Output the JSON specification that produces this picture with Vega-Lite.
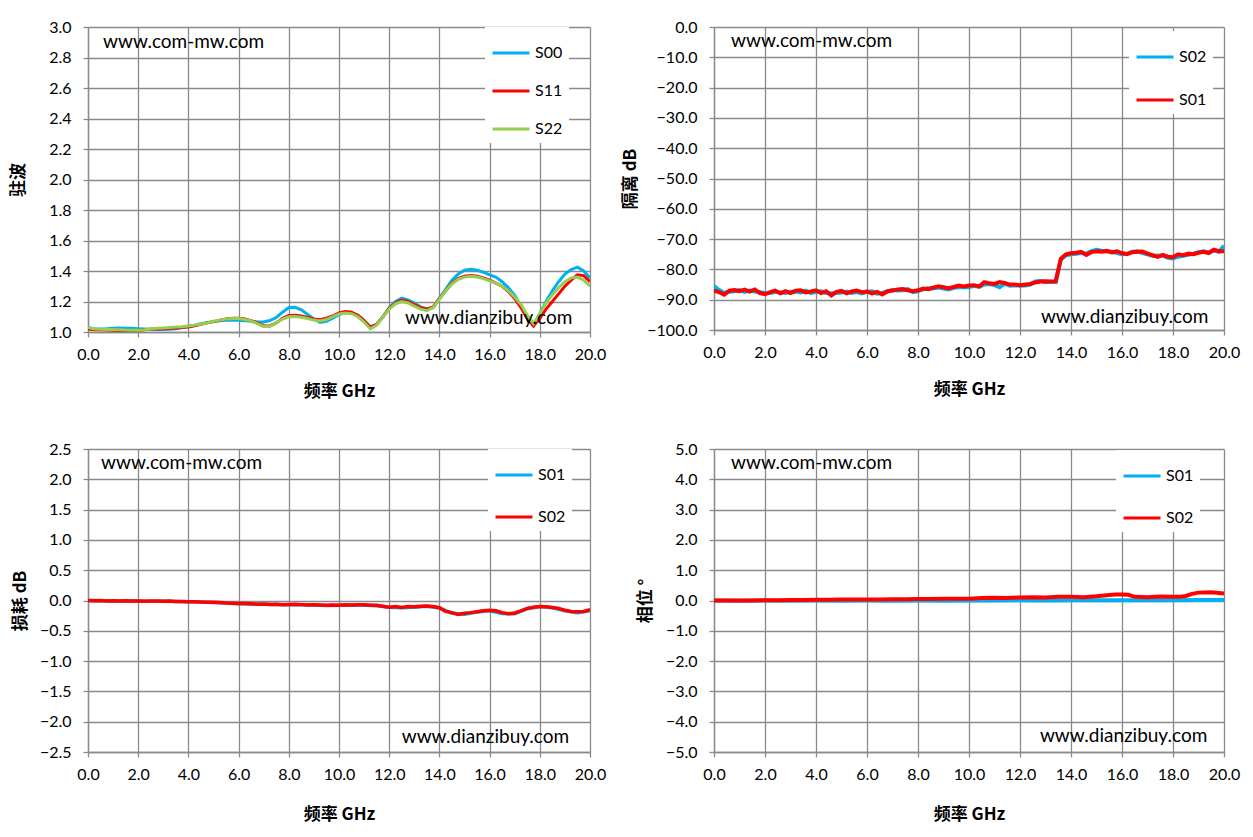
{
  "$schema": "https://vega.github.io/schema/vega-lite/v6.json",
  "background": "white",
  "padding": {"left": 9, "top": 19, "right": 10, "bottom": 10},
  "columns": 2,
  "bounds": "flush",
  "spacing": {"row": 117, "column": 124},
  "resolve": {
    "scale": {"x": "independent", "y": "independent", "color": "independent"},
    "legend": {"color": "independent"}
  },
  "datasets": {
    "vswr": [
      {"s":"S00","f":0,"v":1.03},{"s":"S00","f":0.25,"v":1.02},{"s":"S00","f":0.5,"v":1.02},{"s":"S00","f":0.75,"v":1.022},
      {"s":"S00","f":1,"v":1.025},{"s":"S00","f":1.25,"v":1.026},{"s":"S00","f":1.5,"v":1.025},{"s":"S00","f":1.75,"v":1.024},
      {"s":"S00","f":2,"v":1.022},{"s":"S00","f":2.25,"v":1.02},{"s":"S00","f":2.5,"v":1.018},{"s":"S00","f":2.75,"v":1.016},
      {"s":"S00","f":3,"v":1.016},{"s":"S00","f":3.25,"v":1.018},{"s":"S00","f":3.5,"v":1.022},{"s":"S00","f":3.75,"v":1.03},
      {"s":"S00","f":4,"v":1.04},{"s":"S00","f":4.25,"v":1.045},{"s":"S00","f":4.5,"v":1.055},{"s":"S00","f":4.75,"v":1.062},
      {"s":"S00","f":5,"v":1.068},{"s":"S00","f":5.25,"v":1.073},{"s":"S00","f":5.5,"v":1.077},{"s":"S00","f":5.75,"v":1.078},
      {"s":"S00","f":6,"v":1.077},{"s":"S00","f":6.25,"v":1.074},{"s":"S00","f":6.5,"v":1.07},{"s":"S00","f":6.75,"v":1.066},
      {"s":"S00","f":7,"v":1.066},{"s":"S00","f":7.25,"v":1.075},{"s":"S00","f":7.5,"v":1.095},{"s":"S00","f":7.75,"v":1.13},
      {"s":"S00","f":8,"v":1.16},{"s":"S00","f":8.25,"v":1.162},{"s":"S00","f":8.5,"v":1.145},{"s":"S00","f":8.75,"v":1.115},
      {"s":"S00","f":9,"v":1.085},{"s":"S00","f":9.25,"v":1.063},{"s":"S00","f":9.5,"v":1.07},{"s":"S00","f":9.75,"v":1.09},
      {"s":"S00","f":10,"v":1.115},{"s":"S00","f":10.25,"v":1.128},{"s":"S00","f":10.5,"v":1.125},{"s":"S00","f":10.75,"v":1.11},
      {"s":"S00","f":11,"v":1.075},{"s":"S00","f":11.25,"v":1.035},{"s":"S00","f":11.5,"v":1.05},{"s":"S00","f":11.75,"v":1.1},
      {"s":"S00","f":12,"v":1.16},{"s":"S00","f":12.25,"v":1.2},{"s":"S00","f":12.5,"v":1.222},{"s":"S00","f":12.75,"v":1.21},
      {"s":"S00","f":13,"v":1.19},{"s":"S00","f":13.25,"v":1.165},{"s":"S00","f":13.5,"v":1.152},{"s":"S00","f":13.75,"v":1.16},
      {"s":"S00","f":14,"v":1.22},{"s":"S00","f":14.25,"v":1.28},{"s":"S00","f":14.5,"v":1.34},{"s":"S00","f":14.75,"v":1.38},
      {"s":"S00","f":15,"v":1.405},{"s":"S00","f":15.25,"v":1.412},{"s":"S00","f":15.5,"v":1.405},{"s":"S00","f":15.75,"v":1.392},
      {"s":"S00","f":16,"v":1.375},{"s":"S00","f":16.25,"v":1.36},{"s":"S00","f":16.5,"v":1.33},{"s":"S00","f":16.75,"v":1.29},
      {"s":"S00","f":17,"v":1.24},{"s":"S00","f":17.25,"v":1.17},{"s":"S00","f":17.5,"v":1.09},{"s":"S00","f":17.75,"v":1.04},
      {"s":"S00","f":18,"v":1.12},{"s":"S00","f":18.25,"v":1.2},{"s":"S00","f":18.5,"v":1.27},{"s":"S00","f":18.75,"v":1.33},
      {"s":"S00","f":19,"v":1.38},{"s":"S00","f":19.25,"v":1.41},{"s":"S00","f":19.5,"v":1.425},{"s":"S00","f":19.75,"v":1.4},
      {"s":"S00","f":20,"v":1.355},

      {"s":"S11","f":0,"v":1.02},{"s":"S11","f":0.25,"v":1.015},{"s":"S11","f":0.5,"v":1.015},{"s":"S11","f":0.75,"v":1.013},
      {"s":"S11","f":1,"v":1.012},{"s":"S11","f":1.25,"v":1.01},{"s":"S11","f":1.5,"v":1.008},{"s":"S11","f":1.75,"v":1.008},
      {"s":"S11","f":2,"v":1.01},{"s":"S11","f":2.25,"v":1.015},{"s":"S11","f":2.5,"v":1.018},{"s":"S11","f":2.75,"v":1.02},
      {"s":"S11","f":3,"v":1.022},{"s":"S11","f":3.25,"v":1.025},{"s":"S11","f":3.5,"v":1.027},{"s":"S11","f":3.75,"v":1.03},
      {"s":"S11","f":4,"v":1.032},{"s":"S11","f":4.25,"v":1.04},{"s":"S11","f":4.5,"v":1.05},{"s":"S11","f":4.75,"v":1.06},
      {"s":"S11","f":5,"v":1.068},{"s":"S11","f":5.25,"v":1.078},{"s":"S11","f":5.5,"v":1.085},{"s":"S11","f":5.75,"v":1.09},
      {"s":"S11","f":6,"v":1.09},{"s":"S11","f":6.25,"v":1.085},{"s":"S11","f":6.5,"v":1.075},{"s":"S11","f":6.75,"v":1.06},
      {"s":"S11","f":7,"v":1.04},{"s":"S11","f":7.25,"v":1.04},{"s":"S11","f":7.5,"v":1.06},{"s":"S11","f":7.75,"v":1.09},
      {"s":"S11","f":8,"v":1.108},{"s":"S11","f":8.25,"v":1.11},{"s":"S11","f":8.5,"v":1.105},{"s":"S11","f":8.75,"v":1.095},
      {"s":"S11","f":9,"v":1.085},{"s":"S11","f":9.25,"v":1.08},{"s":"S11","f":9.5,"v":1.09},{"s":"S11","f":9.75,"v":1.105},
      {"s":"S11","f":10,"v":1.125},{"s":"S11","f":10.25,"v":1.135},{"s":"S11","f":10.5,"v":1.13},{"s":"S11","f":10.75,"v":1.11},
      {"s":"S11","f":11,"v":1.075},{"s":"S11","f":11.25,"v":1.03},{"s":"S11","f":11.5,"v":1.05},{"s":"S11","f":11.75,"v":1.1},
      {"s":"S11","f":12,"v":1.155},{"s":"S11","f":12.25,"v":1.19},{"s":"S11","f":12.5,"v":1.21},{"s":"S11","f":12.75,"v":1.2},
      {"s":"S11","f":13,"v":1.18},{"s":"S11","f":13.25,"v":1.16},{"s":"S11","f":13.5,"v":1.15},{"s":"S11","f":13.75,"v":1.165},
      {"s":"S11","f":14,"v":1.22},{"s":"S11","f":14.25,"v":1.27},{"s":"S11","f":14.5,"v":1.32},{"s":"S11","f":14.75,"v":1.35},
      {"s":"S11","f":15,"v":1.365},{"s":"S11","f":15.25,"v":1.37},{"s":"S11","f":15.5,"v":1.365},{"s":"S11","f":15.75,"v":1.355},
      {"s":"S11","f":16,"v":1.34},{"s":"S11","f":16.25,"v":1.32},{"s":"S11","f":16.5,"v":1.3},{"s":"S11","f":16.75,"v":1.265},
      {"s":"S11","f":17,"v":1.22},{"s":"S11","f":17.25,"v":1.16},{"s":"S11","f":17.5,"v":1.09},{"s":"S11","f":17.75,"v":1.04},
      {"s":"S11","f":18,"v":1.09},{"s":"S11","f":18.25,"v":1.15},{"s":"S11","f":18.5,"v":1.2},{"s":"S11","f":18.75,"v":1.25},
      {"s":"S11","f":19,"v":1.3},{"s":"S11","f":19.25,"v":1.34},{"s":"S11","f":19.5,"v":1.375},{"s":"S11","f":19.75,"v":1.37},
      {"s":"S11","f":20,"v":1.33},

      {"s":"S22","f":0,"v":1.03},{"s":"S22","f":0.25,"v":1.02},{"s":"S22","f":0.5,"v":1.018},{"s":"S22","f":0.75,"v":1.017},
      {"s":"S22","f":1,"v":1.016},{"s":"S22","f":1.25,"v":1.015},{"s":"S22","f":1.5,"v":1.013},{"s":"S22","f":1.75,"v":1.012},
      {"s":"S22","f":2,"v":1.012},{"s":"S22","f":2.25,"v":1.015},{"s":"S22","f":2.5,"v":1.02},{"s":"S22","f":2.75,"v":1.024},
      {"s":"S22","f":3,"v":1.027},{"s":"S22","f":3.25,"v":1.03},{"s":"S22","f":3.5,"v":1.032},{"s":"S22","f":3.75,"v":1.035},
      {"s":"S22","f":4,"v":1.04},{"s":"S22","f":4.25,"v":1.045},{"s":"S22","f":4.5,"v":1.052},{"s":"S22","f":4.75,"v":1.06},
      {"s":"S22","f":5,"v":1.07},{"s":"S22","f":5.25,"v":1.078},{"s":"S22","f":5.5,"v":1.085},{"s":"S22","f":5.75,"v":1.088},
      {"s":"S22","f":6,"v":1.088},{"s":"S22","f":6.25,"v":1.082},{"s":"S22","f":6.5,"v":1.072},{"s":"S22","f":6.75,"v":1.055},
      {"s":"S22","f":7,"v":1.035},{"s":"S22","f":7.25,"v":1.038},{"s":"S22","f":7.5,"v":1.06},{"s":"S22","f":7.75,"v":1.085},
      {"s":"S22","f":8,"v":1.1},{"s":"S22","f":8.25,"v":1.102},{"s":"S22","f":8.5,"v":1.097},{"s":"S22","f":8.75,"v":1.088},
      {"s":"S22","f":9,"v":1.078},{"s":"S22","f":9.25,"v":1.072},{"s":"S22","f":9.5,"v":1.082},{"s":"S22","f":9.75,"v":1.1},
      {"s":"S22","f":10,"v":1.118},{"s":"S22","f":10.25,"v":1.125},{"s":"S22","f":10.5,"v":1.12},{"s":"S22","f":10.75,"v":1.1},
      {"s":"S22","f":11,"v":1.065},{"s":"S22","f":11.25,"v":1.02},{"s":"S22","f":11.5,"v":1.045},{"s":"S22","f":11.75,"v":1.1},
      {"s":"S22","f":12,"v":1.15},{"s":"S22","f":12.25,"v":1.185},{"s":"S22","f":12.5,"v":1.2},{"s":"S22","f":12.75,"v":1.19},
      {"s":"S22","f":13,"v":1.17},{"s":"S22","f":13.25,"v":1.15},{"s":"S22","f":13.5,"v":1.14},{"s":"S22","f":13.75,"v":1.16},
      {"s":"S22","f":14,"v":1.215},{"s":"S22","f":14.25,"v":1.27},{"s":"S22","f":14.5,"v":1.315},{"s":"S22","f":14.75,"v":1.345},
      {"s":"S22","f":15,"v":1.36},{"s":"S22","f":15.25,"v":1.365},{"s":"S22","f":15.5,"v":1.36},{"s":"S22","f":15.75,"v":1.35},
      {"s":"S22","f":16,"v":1.335},{"s":"S22","f":16.25,"v":1.32},{"s":"S22","f":16.5,"v":1.3},{"s":"S22","f":16.75,"v":1.27},
      {"s":"S22","f":17,"v":1.23},{"s":"S22","f":17.25,"v":1.18},{"s":"S22","f":17.5,"v":1.11},{"s":"S22","f":17.75,"v":1.055},
      {"s":"S22","f":18,"v":1.12},{"s":"S22","f":18.25,"v":1.19},{"s":"S22","f":18.5,"v":1.245},{"s":"S22","f":18.75,"v":1.29},
      {"s":"S22","f":19,"v":1.33},{"s":"S22","f":19.25,"v":1.355},{"s":"S22","f":19.5,"v":1.36},{"s":"S22","f":19.75,"v":1.34},
      {"s":"S22","f":20,"v":1.3}
    ],
    "iso": [
      {"s":"S02","f":0,"v":-85.5},{"s":"S02","f":0.2,"v":-86.8},{"s":"S02","f":0.4,"v":-87.8},{"s":"S02","f":0.6,"v":-87.4},{"s":"S02","f":0.8,"v":-87.2},
      {"s":"S02","f":1,"v":-86.8},{"s":"S02","f":1.2,"v":-87.4},{"s":"S02","f":1.4,"v":-87},{"s":"S02","f":1.6,"v":-87.3},{"s":"S02","f":1.8,"v":-87.5},
      {"s":"S02","f":2,"v":-87.8},{"s":"S02","f":2.2,"v":-87.8},{"s":"S02","f":2.4,"v":-87.4},{"s":"S02","f":2.6,"v":-87.6},{"s":"S02","f":2.8,"v":-87.8},
      {"s":"S02","f":3,"v":-87.4},{"s":"S02","f":3.2,"v":-87.3},{"s":"S02","f":3.4,"v":-87.6},{"s":"S02","f":3.6,"v":-87},{"s":"S02","f":3.8,"v":-87.8},
      {"s":"S02","f":4,"v":-87.5},{"s":"S02","f":4.2,"v":-87.2},{"s":"S02","f":4.4,"v":-87.8},{"s":"S02","f":4.6,"v":-87.9},{"s":"S02","f":4.8,"v":-87.8},
      {"s":"S02","f":5,"v":-87.6},{"s":"S02","f":5.2,"v":-87.3},{"s":"S02","f":5.4,"v":-87.8},{"s":"S02","f":5.6,"v":-87.5},{"s":"S02","f":5.8,"v":-87.9},
      {"s":"S02","f":6,"v":-87.4},{"s":"S02","f":6.2,"v":-87.2},{"s":"S02","f":6.4,"v":-88},{"s":"S02","f":6.6,"v":-87.8},{"s":"S02","f":6.8,"v":-87.3},
      {"s":"S02","f":7,"v":-86.8},{"s":"S02","f":7.2,"v":-87},{"s":"S02","f":7.4,"v":-86.9},{"s":"S02","f":7.6,"v":-86.5},{"s":"S02","f":7.8,"v":-87.5},
      {"s":"S02","f":8,"v":-87.2},{"s":"S02","f":8.2,"v":-86.6},{"s":"S02","f":8.4,"v":-86.2},{"s":"S02","f":8.6,"v":-86.3},{"s":"S02","f":8.8,"v":-86},
      {"s":"S02","f":9,"v":-86.3},{"s":"S02","f":9.2,"v":-86.6},{"s":"S02","f":9.4,"v":-86.1},{"s":"S02","f":9.6,"v":-85.9},{"s":"S02","f":9.8,"v":-85.8},
      {"s":"S02","f":10,"v":-85.9},{"s":"S02","f":10.2,"v":-85.4},{"s":"S02","f":10.4,"v":-85.8},{"s":"S02","f":10.6,"v":-85},{"s":"S02","f":10.8,"v":-84.8},
      {"s":"S02","f":11,"v":-85.2},{"s":"S02","f":11.2,"v":-85.9},{"s":"S02","f":11.4,"v":-84.7},{"s":"S02","f":11.6,"v":-85.4},{"s":"S02","f":11.8,"v":-85.2},
      {"s":"S02","f":12,"v":-85.4},{"s":"S02","f":12.2,"v":-85.3},{"s":"S02","f":12.4,"v":-85},{"s":"S02","f":12.6,"v":-84},{"s":"S02","f":12.8,"v":-83.8},
      {"s":"S02","f":13,"v":-84.2},{"s":"S02","f":13.2,"v":-84.1},{"s":"S02","f":13.4,"v":-84.2},{"s":"S02","f":13.6,"v":-76.8},{"s":"S02","f":13.8,"v":-75.3},
      {"s":"S02","f":14,"v":-75},{"s":"S02","f":14.2,"v":-74.8},{"s":"S02","f":14.4,"v":-74.6},{"s":"S02","f":14.6,"v":-74.8},{"s":"S02","f":14.8,"v":-74},
      {"s":"S02","f":15,"v":-73.5},{"s":"S02","f":15.2,"v":-73.8},{"s":"S02","f":15.4,"v":-74},{"s":"S02","f":15.6,"v":-74.2},{"s":"S02","f":15.8,"v":-74.6},
      {"s":"S02","f":16,"v":-75},{"s":"S02","f":16.2,"v":-74.8},{"s":"S02","f":16.4,"v":-74.2},{"s":"S02","f":16.6,"v":-74},{"s":"S02","f":16.8,"v":-74.6},
      {"s":"S02","f":17,"v":-75},{"s":"S02","f":17.2,"v":-75.6},{"s":"S02","f":17.4,"v":-75.4},{"s":"S02","f":17.6,"v":-75.5},{"s":"S02","f":17.8,"v":-76.2},
      {"s":"S02","f":18,"v":-76.4},{"s":"S02","f":18.2,"v":-75.8},{"s":"S02","f":18.4,"v":-75.5},{"s":"S02","f":18.6,"v":-75.2},{"s":"S02","f":18.8,"v":-74.8},
      {"s":"S02","f":19,"v":-74.3},{"s":"S02","f":19.2,"v":-74},{"s":"S02","f":19.4,"v":-74.5},{"s":"S02","f":19.6,"v":-73.8},{"s":"S02","f":19.8,"v":-74.2},
      {"s":"S02","f":20,"v":-72.2},

      {"s":"S01","f":0,"v":-87},{"s":"S01","f":0.2,"v":-87.5},{"s":"S01","f":0.4,"v":-88.3},{"s":"S01","f":0.6,"v":-87},{"s":"S01","f":0.8,"v":-86.8},
      {"s":"S01","f":1,"v":-87.2},{"s":"S01","f":1.2,"v":-86.7},{"s":"S01","f":1.4,"v":-87.3},{"s":"S01","f":1.6,"v":-86.6},{"s":"S01","f":1.8,"v":-87.8},
      {"s":"S01","f":2,"v":-88.2},{"s":"S01","f":2.2,"v":-87.5},{"s":"S01","f":2.4,"v":-87},{"s":"S01","f":2.6,"v":-87.9},{"s":"S01","f":2.8,"v":-87.2},
      {"s":"S01","f":3,"v":-87.8},{"s":"S01","f":3.2,"v":-87},{"s":"S01","f":3.4,"v":-86.9},{"s":"S01","f":3.6,"v":-87.6},{"s":"S01","f":3.8,"v":-87.3},
      {"s":"S01","f":4,"v":-86.9},{"s":"S01","f":4.2,"v":-87.8},{"s":"S01","f":4.4,"v":-87.2},{"s":"S01","f":4.6,"v":-88.6},{"s":"S01","f":4.8,"v":-87.4},
      {"s":"S01","f":5,"v":-87.1},{"s":"S01","f":5.2,"v":-87.9},{"s":"S01","f":5.4,"v":-87.3},{"s":"S01","f":5.6,"v":-87},{"s":"S01","f":5.8,"v":-87.5},
      {"s":"S01","f":6,"v":-87.3},{"s":"S01","f":6.2,"v":-87.9},{"s":"S01","f":6.4,"v":-87.4},{"s":"S01","f":6.6,"v":-88.3},{"s":"S01","f":6.8,"v":-87.2},
      {"s":"S01","f":7,"v":-87},{"s":"S01","f":7.2,"v":-86.6},{"s":"S01","f":7.4,"v":-86.5},{"s":"S01","f":7.6,"v":-86.9},{"s":"S01","f":7.8,"v":-87.2},
      {"s":"S01","f":8,"v":-86.9},{"s":"S01","f":8.2,"v":-86.3},{"s":"S01","f":8.4,"v":-86.5},{"s":"S01","f":8.6,"v":-86},{"s":"S01","f":8.8,"v":-85.6},
      {"s":"S01","f":9,"v":-85.9},{"s":"S01","f":9.2,"v":-86.2},{"s":"S01","f":9.4,"v":-85.8},{"s":"S01","f":9.6,"v":-85.3},{"s":"S01","f":9.8,"v":-85.6},
      {"s":"S01","f":10,"v":-85.3},{"s":"S01","f":10.2,"v":-85.2},{"s":"S01","f":10.4,"v":-85.6},{"s":"S01","f":10.6,"v":-84.2},{"s":"S01","f":10.8,"v":-84.6},
      {"s":"S01","f":11,"v":-84.8},{"s":"S01","f":11.2,"v":-84.2},{"s":"S01","f":11.4,"v":-84.5},{"s":"S01","f":11.6,"v":-85},{"s":"S01","f":11.8,"v":-85},
      {"s":"S01","f":12,"v":-85.2},{"s":"S01","f":12.2,"v":-85},{"s":"S01","f":12.4,"v":-84.8},{"s":"S01","f":12.6,"v":-84.3},{"s":"S01","f":12.8,"v":-84},
      {"s":"S01","f":13,"v":-83.9},{"s":"S01","f":13.2,"v":-84},{"s":"S01","f":13.4,"v":-83.9},{"s":"S01","f":13.6,"v":-76.5},{"s":"S01","f":13.8,"v":-75},
      {"s":"S01","f":14,"v":-74.7},{"s":"S01","f":14.2,"v":-74.5},{"s":"S01","f":14.4,"v":-74.2},{"s":"S01","f":14.6,"v":-75.2},{"s":"S01","f":14.8,"v":-74.3},
      {"s":"S01","f":15,"v":-74},{"s":"S01","f":15.2,"v":-74.2},{"s":"S01","f":15.4,"v":-73.9},{"s":"S01","f":15.6,"v":-74.4},{"s":"S01","f":15.8,"v":-74},
      {"s":"S01","f":16,"v":-74.6},{"s":"S01","f":16.2,"v":-75},{"s":"S01","f":16.4,"v":-74.3},{"s":"S01","f":16.6,"v":-74.2},{"s":"S01","f":16.8,"v":-74.1},
      {"s":"S01","f":17,"v":-74.8},{"s":"S01","f":17.2,"v":-75.3},{"s":"S01","f":17.4,"v":-75.9},{"s":"S01","f":17.6,"v":-75.2},{"s":"S01","f":17.8,"v":-75.8},
      {"s":"S01","f":18,"v":-76},{"s":"S01","f":18.2,"v":-75},{"s":"S01","f":18.4,"v":-75.3},{"s":"S01","f":18.6,"v":-74.8},{"s":"S01","f":18.8,"v":-75},
      {"s":"S01","f":19,"v":-74.5},{"s":"S01","f":19.2,"v":-74.2},{"s":"S01","f":19.4,"v":-74.6},{"s":"S01","f":19.6,"v":-73.5},{"s":"S01","f":19.8,"v":-74},
      {"s":"S01","f":20,"v":-74}
    ],
    "loss": [
      {"s":"S01","f":0,"v":0},{"s":"S01","f":0.5,"v":-0.005},{"s":"S01","f":1,"v":-0.008},{"s":"S01","f":1.5,"v":-0.008},{"s":"S01","f":2,"v":-0.01},
      {"s":"S01","f":2.5,"v":-0.012},{"s":"S01","f":3,"v":-0.013},{"s":"S01","f":3.5,"v":-0.016},{"s":"S01","f":4,"v":-0.02},{"s":"S01","f":4.5,"v":-0.026},
      {"s":"S01","f":5,"v":-0.032},{"s":"S01","f":5.5,"v":-0.042},{"s":"S01","f":6,"v":-0.052},{"s":"S01","f":6.5,"v":-0.058},{"s":"S01","f":7,"v":-0.062},
      {"s":"S01","f":7.5,"v":-0.066},{"s":"S01","f":8,"v":-0.07},{"s":"S01","f":8.5,"v":-0.072},{"s":"S01","f":9,"v":-0.075},{"s":"S01","f":9.5,"v":-0.082},
      {"s":"S01","f":10,"v":-0.08},{"s":"S01","f":10.5,"v":-0.078},{"s":"S01","f":11,"v":-0.076},{"s":"S01","f":11.5,"v":-0.085},{"s":"S01","f":12,"v":-0.112},
      {"s":"S01","f":12.5,"v":-0.118},{"s":"S01","f":13,"v":-0.11},{"s":"S01","f":13.5,"v":-0.095},{"s":"S01","f":14,"v":-0.125},{"s":"S01","f":14.5,"v":-0.21},
      {"s":"S01","f":15,"v":-0.225},{"s":"S01","f":15.5,"v":-0.19},{"s":"S01","f":16,"v":-0.17},{"s":"S01","f":16.5,"v":-0.215},{"s":"S01","f":17,"v":-0.22},
      {"s":"S01","f":17.5,"v":-0.135},{"s":"S01","f":18,"v":-0.1},{"s":"S01","f":18.5,"v":-0.12},{"s":"S01","f":19,"v":-0.17},{"s":"S01","f":19.5,"v":-0.2},
      {"s":"S01","f":20,"v":-0.17},

      {"s":"S02","f":0,"v":0},{"s":"S02","f":0.25,"v":-0.005},{"s":"S02","f":0.5,"v":0},{"s":"S02","f":0.75,"v":-0.01},{"s":"S02","f":1,"v":-0.005},
      {"s":"S02","f":1.25,"v":-0.01},{"s":"S02","f":1.5,"v":-0.005},{"s":"S02","f":1.75,"v":-0.01},{"s":"S02","f":2,"v":-0.008},{"s":"S02","f":2.25,"v":-0.012},
      {"s":"S02","f":2.5,"v":-0.008},{"s":"S02","f":2.75,"v":-0.01},{"s":"S02","f":3,"v":-0.012},{"s":"S02","f":3.25,"v":-0.01},{"s":"S02","f":3.5,"v":-0.015},
      {"s":"S02","f":3.75,"v":-0.015},{"s":"S02","f":4,"v":-0.02},{"s":"S02","f":4.25,"v":-0.02},{"s":"S02","f":4.5,"v":-0.025},{"s":"S02","f":4.75,"v":-0.028},
      {"s":"S02","f":5,"v":-0.03},{"s":"S02","f":5.25,"v":-0.035},{"s":"S02","f":5.5,"v":-0.04},{"s":"S02","f":5.75,"v":-0.045},{"s":"S02","f":6,"v":-0.05},
      {"s":"S02","f":6.25,"v":-0.048},{"s":"S02","f":6.5,"v":-0.055},{"s":"S02","f":6.75,"v":-0.06},{"s":"S02","f":7,"v":-0.058},{"s":"S02","f":7.25,"v":-0.065},
      {"s":"S02","f":7.5,"v":-0.06},{"s":"S02","f":7.75,"v":-0.07},{"s":"S02","f":8,"v":-0.065},{"s":"S02","f":8.25,"v":-0.06},{"s":"S02","f":8.5,"v":-0.068},
      {"s":"S02","f":8.75,"v":-0.075},{"s":"S02","f":9,"v":-0.07},{"s":"S02","f":9.25,"v":-0.075},{"s":"S02","f":9.5,"v":-0.08},{"s":"S02","f":9.75,"v":-0.075},
      {"s":"S02","f":10,"v":-0.078},{"s":"S02","f":10.25,"v":-0.072},{"s":"S02","f":10.5,"v":-0.075},{"s":"S02","f":10.75,"v":-0.07},{"s":"S02","f":11,"v":-0.072},
      {"s":"S02","f":11.25,"v":-0.078},{"s":"S02","f":11.5,"v":-0.08},{"s":"S02","f":11.75,"v":-0.095},{"s":"S02","f":12,"v":-0.11},{"s":"S02","f":12.25,"v":-0.1},
      {"s":"S02","f":12.5,"v":-0.115},{"s":"S02","f":12.75,"v":-0.1},{"s":"S02","f":13,"v":-0.105},{"s":"S02","f":13.25,"v":-0.095},{"s":"S02","f":13.5,"v":-0.09},
      {"s":"S02","f":13.75,"v":-0.1},{"s":"S02","f":14,"v":-0.12},{"s":"S02","f":14.25,"v":-0.18},{"s":"S02","f":14.5,"v":-0.2},{"s":"S02","f":14.75,"v":-0.23},
      {"s":"S02","f":15,"v":-0.21},{"s":"S02","f":15.25,"v":-0.2},{"s":"S02","f":15.5,"v":-0.185},{"s":"S02","f":15.75,"v":-0.17},{"s":"S02","f":16,"v":-0.16},
      {"s":"S02","f":16.25,"v":-0.17},{"s":"S02","f":16.5,"v":-0.2},{"s":"S02","f":16.75,"v":-0.22},{"s":"S02","f":17,"v":-0.205},{"s":"S02","f":17.25,"v":-0.17},
      {"s":"S02","f":17.5,"v":-0.13},{"s":"S02","f":17.75,"v":-0.11},{"s":"S02","f":18,"v":-0.1},{"s":"S02","f":18.25,"v":-0.105},{"s":"S02","f":18.5,"v":-0.115},
      {"s":"S02","f":18.75,"v":-0.13},{"s":"S02","f":19,"v":-0.16},{"s":"S02","f":19.25,"v":-0.18},{"s":"S02","f":19.5,"v":-0.185},{"s":"S02","f":19.75,"v":-0.18},
      {"s":"S02","f":20,"v":-0.15}
    ],
    "phase": [
      {"s":"S01","f":0,"v":0},{"s":"S01","f":1,"v":-0.005},{"s":"S01","f":2,"v":0},{"s":"S01","f":3,"v":-0.005},{"s":"S01","f":4,"v":0},
      {"s":"S01","f":5,"v":-0.005},{"s":"S01","f":6,"v":0},{"s":"S01","f":7,"v":-0.005},{"s":"S01","f":8,"v":0},{"s":"S01","f":9,"v":-0.005},
      {"s":"S01","f":10,"v":0},{"s":"S01","f":11,"v":0},{"s":"S01","f":12,"v":0.005},{"s":"S01","f":13,"v":0},{"s":"S01","f":14,"v":0.005},
      {"s":"S01","f":15,"v":0.01},{"s":"S01","f":16,"v":0.01},{"s":"S01","f":17,"v":0.005},{"s":"S01","f":18,"v":0.01},{"s":"S01","f":19,"v":0.015},
      {"s":"S01","f":20,"v":0.015},

      {"s":"S02","f":0,"v":0},{"s":"S02","f":0.5,"v":0},{"s":"S02","f":1,"v":0},{"s":"S02","f":1.5,"v":0.003},{"s":"S02","f":2,"v":0.005},
      {"s":"S02","f":2.5,"v":0.01},{"s":"S02","f":3,"v":0.015},{"s":"S02","f":3.5,"v":0.02},{"s":"S02","f":4,"v":0.025},{"s":"S02","f":4.5,"v":0.025},
      {"s":"S02","f":5,"v":0.03},{"s":"S02","f":5.5,"v":0.032},{"s":"S02","f":6,"v":0.035},{"s":"S02","f":6.5,"v":0.035},{"s":"S02","f":7,"v":0.04},
      {"s":"S02","f":7.5,"v":0.045},{"s":"S02","f":8,"v":0.05},{"s":"S02","f":8.5,"v":0.05},{"s":"S02","f":9,"v":0.055},{"s":"S02","f":9.5,"v":0.06},
      {"s":"S02","f":10,"v":0.06},{"s":"S02","f":10.5,"v":0.08},{"s":"S02","f":11,"v":0.09},{"s":"S02","f":11.5,"v":0.085},{"s":"S02","f":12,"v":0.1},
      {"s":"S02","f":12.5,"v":0.11},{"s":"S02","f":13,"v":0.1},{"s":"S02","f":13.5,"v":0.12},{"s":"S02","f":14,"v":0.125},{"s":"S02","f":14.5,"v":0.11},
      {"s":"S02","f":15,"v":0.14},{"s":"S02","f":15.5,"v":0.18},{"s":"S02","f":15.75,"v":0.2},{"s":"S02","f":16,"v":0.2},{"s":"S02","f":16.25,"v":0.19},
      {"s":"S02","f":16.5,"v":0.12},{"s":"S02","f":17,"v":0.11},{"s":"S02","f":17.5,"v":0.13},{"s":"S02","f":18,"v":0.12},{"s":"S02","f":18.25,"v":0.12},
      {"s":"S02","f":18.5,"v":0.15},{"s":"S02","f":18.75,"v":0.22},{"s":"S02","f":19,"v":0.26},{"s":"S02","f":19.5,"v":0.27},{"s":"S02","f":20,"v":0.23}
    ]
  },
  "concat": [
    {
      "width": 502,
      "height": 305,
      "layer": [
        {
          "data": {"name": "vswr"},
          "mark": {"type": "line", "strokeWidth": 3, "clip": true},
          "encoding": {
            "x": {"field": "f", "type": "quantitative", "title": "频率  GHz",
                  "scale": {"domain": [0, 20], "nice": false},
                  "axis": {"values": [0,2,4,6,8,10,12,14,16,18,20], "tickCount": 11, "format": ".1f", "titlePadding": 21}},
            "y": {"field": "v", "type": "quantitative", "title": "驻波",
                  "scale": {"domain": [1, 3], "nice": false, "zero": false},
                  "axis": {"values": [1,1.2,1.4,1.6,1.8,2,2.2,2.4,2.6,2.8,3], "tickCount": 11, "format": ".1f", "titlePadding": 21}},
            "color": {"field": "s", "type": "nominal",
                      "scale": {"domain": ["S00","S11","S22"], "range": ["#00B0F0","#FF0000","#92D050"]},
                      "legend": {"orient": "none", "legendX": 397, "legendY": 0, "rowPadding": 10}}
          }
        },
        {
          "data": {"values": [{}]},
          "mark": {"type": "text", "align": "left", "baseline": "middle", "font": "Lato", "fontSize": 19, "color": "#000000"},
          "encoding": {
            "x": {"datum": 0.6, "type": "quantitative"},
            "y": {"datum": 2.9, "type": "quantitative"},
            "text": {"value": "www.com-mw.com"}
          }
        },
        {
          "data": {"values": [{}]},
          "mark": {"type": "text", "align": "left", "baseline": "middle", "font": "Lato", "fontSize": 19, "color": "#000000"},
          "encoding": {
            "x": {"datum": 12.63, "type": "quantitative"},
            "y": {"datum": 1.095, "type": "quantitative"},
            "text": {"value": "www.dianzibuy.com"}
          }
        }
      ]
    },
    {
      "width": 510,
      "height": 303,
      "layer": [
        {
          "data": {"name": "iso"},
          "transform": [{"filter": "datum.s === 'S02'"}],
          "mark": {"type": "line", "strokeWidth": 4, "clip": true},
          "encoding": {
            "x": {"field": "f", "type": "quantitative", "title": "频率  GHz",
                  "scale": {"domain": [0, 20], "nice": false},
                  "axis": {"values": [0,2,4,6,8,10,12,14,16,18,20], "tickCount": 11, "format": ".1f", "titlePadding": 21}},
            "y": {"field": "v", "type": "quantitative", "title": "隔离 dB",
                  "scale": {"domain": [-100, 0], "nice": false},
                  "axis": {"values": [-100,-90,-80,-70,-60,-50,-40,-30,-20,-10,0], "tickCount": 11, "format": ".1f", "titlePadding": 7}},
            "color": {"field": "s", "type": "nominal",
                      "scale": {"domain": ["S02","S01"], "range": ["#00B0F0","#FF0000"]},
                      "legend": {"orient": "none", "legendX": 415, "legendY": 4, "rowPadding": 15}}
          }
        },
        {
          "data": {"name": "iso"},
          "transform": [{"filter": "datum.s === 'S01'"}],
          "mark": {"type": "line", "strokeWidth": 4, "clip": true},
          "encoding": {
            "x": {"field": "f", "type": "quantitative"},
            "y": {"field": "v", "type": "quantitative"},
            "color": {"field": "s", "type": "nominal"}
          }
        },
        {
          "data": {"values": [{}]},
          "mark": {"type": "text", "align": "left", "baseline": "middle", "font": "Lato", "fontSize": 19, "color": "#000000"},
          "encoding": {
            "x": {"datum": 0.67, "type": "quantitative"},
            "y": {"datum": -4.6, "type": "quantitative"},
            "text": {"value": "www.com-mw.com"}
          }
        },
        {
          "data": {"values": [{}]},
          "mark": {"type": "text", "align": "left", "baseline": "middle", "font": "Lato", "fontSize": 19, "color": "#000000"},
          "encoding": {
            "x": {"datum": 12.82, "type": "quantitative"},
            "y": {"datum": -95.7, "type": "quantitative"},
            "text": {"value": "www.dianzibuy.com"}
          }
        }
      ]
    },
    {
      "width": 502,
      "height": 303,
      "layer": [
        {
          "data": {"name": "loss"},
          "mark": {"type": "line", "strokeWidth": 3.5, "clip": true},
          "encoding": {
            "x": {"field": "f", "type": "quantitative", "title": "频率  GHz",
                  "scale": {"domain": [0, 20], "nice": false},
                  "axis": {"values": [0,2,4,6,8,10,12,14,16,18,20], "tickCount": 11, "format": ".1f", "titlePadding": 24}},
            "y": {"field": "v", "type": "quantitative", "title": "损耗 dB",
                  "scale": {"domain": [-2.5, 2.5], "nice": false},
                  "axis": {"values": [-2.5,-2,-1.5,-1,-0.5,0,0.5,1,1.5,2,2.5], "tickCount": 11, "format": ".1f", "titlePadding": 10}},
            "color": {"field": "s", "type": "nominal",
                      "scale": {"domain": ["S01","S02"], "range": ["#00B0F0","#FF0000"]},
                      "legend": {"orient": "none", "legendX": 400, "legendY": 0, "rowPadding": 14}}
          }
        },
        {
          "data": {"values": [{}]},
          "mark": {"type": "text", "align": "left", "baseline": "middle", "font": "Lato", "fontSize": 19, "color": "#000000"},
          "encoding": {
            "x": {"datum": 0.52, "type": "quantitative"},
            "y": {"datum": 2.27, "type": "quantitative"},
            "text": {"value": "www.com-mw.com"}
          }
        },
        {
          "data": {"values": [{}]},
          "mark": {"type": "text", "align": "left", "baseline": "middle", "font": "Lato", "fontSize": 19, "color": "#000000"},
          "encoding": {
            "x": {"datum": 12.5, "type": "quantitative"},
            "y": {"datum": -2.25, "type": "quantitative"},
            "text": {"value": "www.dianzibuy.com"}
          }
        }
      ]
    },
    {
      "width": 510,
      "height": 303,
      "layer": [
        {
          "data": {"name": "phase"},
          "mark": {"type": "line", "strokeWidth": 4, "clip": true},
          "encoding": {
            "x": {"field": "f", "type": "quantitative", "title": "频率  GHz",
                  "scale": {"domain": [0, 20], "nice": false},
                  "axis": {"values": [0,2,4,6,8,10,12,14,16,18,20], "tickCount": 11, "format": ".1f", "titlePadding": 24}},
            "y": {"field": "v", "type": "quantitative", "title": "相位 °",
                  "scale": {"domain": [-5, 5], "nice": false},
                  "axis": {"values": [-5,-4,-3,-2,-1,0,1,2,3,4,5], "tickCount": 11, "format": ".1f", "titlePadding": 11}},
            "color": {"field": "s", "type": "nominal",
                      "scale": {"domain": ["S01","S02"], "range": ["#00B0F0","#FF0000"]},
                      "legend": {"orient": "none", "legendX": 402, "legendY": 1, "rowPadding": 14}}
          }
        },
        {
          "data": {"values": [{}]},
          "mark": {"type": "text", "align": "left", "baseline": "middle", "font": "Lato", "fontSize": 19, "color": "#000000"},
          "encoding": {
            "x": {"datum": 0.67, "type": "quantitative"},
            "y": {"datum": 4.54, "type": "quantitative"},
            "text": {"value": "www.com-mw.com"}
          }
        },
        {
          "data": {"values": [{}]},
          "mark": {"type": "text", "align": "left", "baseline": "middle", "font": "Lato", "fontSize": 19, "color": "#000000"},
          "encoding": {
            "x": {"datum": 12.78, "type": "quantitative"},
            "y": {"datum": -4.47, "type": "quantitative"},
            "text": {"value": "www.dianzibuy.com"}
          }
        }
      ]
    }
  ],
  "config": {
    "view": {"stroke": null},
    "axis": {
      "grid": true,
      "gridColor": "#8a8a8a",
      "gridWidth": 1.3,
      "domainColor": "#8a8a8a",
      "domainWidth": 1.3,
      "tickColor": "#8a8a8a",
      "tickWidth": 1.3,
      "tickSize": 5,
      "labelFont": "Lato",
      "labelFontSize": 16,
      "labelColor": "#000000",
      "titleFont": "Noto Sans CJK SC",
      "titleFontSize": 17,
      "titleFontWeight": "bold",
      "titleColor": "#000000"
    },
    "axisX": {"labelPadding": 9, "labelFlush": false, "labelOverlap": false},
    "axisY": {"labelPadding": 12, "labelOverlap": false},
    "legend": {
      "title": null,
      "fillColor": "white",
      "padding": 6,
      "symbolType": "stroke",
      "symbolSize": 1369,
      "symbolStrokeWidth": 3,
      "labelFont": "Lato",
      "labelFontSize": 16,
      "labelColor": "#000000",
      "labelOffset": 4
    }
  }
}
